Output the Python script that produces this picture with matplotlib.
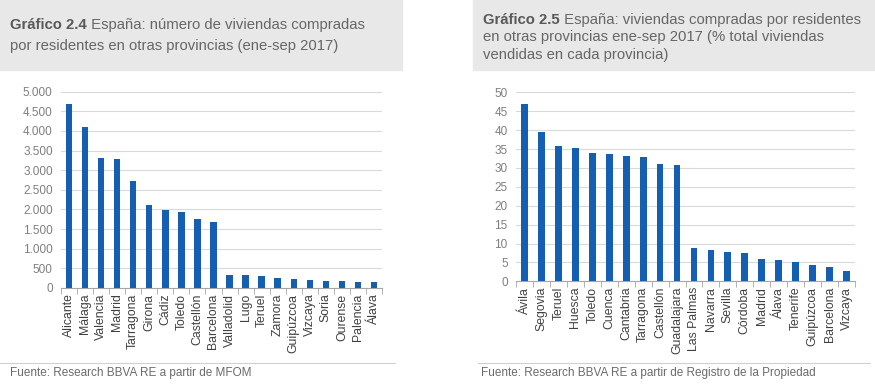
import matplotlib
matplotlib.use("Agg")
import matplotlib.pyplot as plt
from matplotlib.patches import Rectangle
from matplotlib.text import Annotation
import numpy as np

plt.rcParams['font.family'] = ['Liberation Sans', 'DejaVu Sans']

# Gráfico 2.4: número de viviendas
prov_left = ["Alicante", "Málaga", "Valencia", "Madrid", "Tarragona", "Girona",
             "Cádiz", "Toledo", "Castellón", "Barcelona", "Valladolid", "Lugo",
             "Teruel", "Zamora", "Guipúzcoa", "Vizcaya", "Soria", "Ourense",
             "Palencia", "Álava"]
viv_left = [4680, 4110, 3305, 3280, 2730, 2110, 1985, 1940, 1770, 1670,
            340, 322, 305, 246, 220, 203, 178, 178, 161, 144]

# Gráfico 2.5: % del total de viviendas vendidas
prov_right = ["Ávila", "Segovia", "Teruel", "Huesca", "Toledo", "Cuenca",
              "Cantabria", "Tarragona", "Castellón", "Guadalajara", "Las Palmas",
              "Navarra", "Sevilla", "Córdoba", "Madrid", "Álava", "Tenerife",
              "Guipúzcoa", "Barcelona", "Vizcaya"]
pct_right = [46.8, 39.4, 35.8, 35.2, 33.9, 33.7, 33.1, 32.8, 31.0, 30.7,
             8.9, 8.2, 7.8, 7.5, 5.8, 5.6, 5.0, 4.3, 3.8, 2.6]

W, H = 875, 389
BLUE = "#155fb3"
GRID = "#d9d9d9"
TFS = 10.7
fig = plt.figure(figsize=(W / 100, H / 100), dpi=100)


def px(x0, y0, x1, y1):
    # pixel box -> figure fraction
    return [x0 / W, 1 - y1 / H, (x1 - x0) / W, (y1 - y0) / H]


def bar_panel(rect, cats, vals, ymax, step, fmt):
    ax = fig.add_axes(rect)
    x = np.arange(len(cats))
    ax.bar(x, vals, width=0.4, color=BLUE, zorder=3)
    ax.set_xlim(-0.5, len(cats) - 0.5)
    ax.set_ylim(0, ymax)
    ax.set_yticks(np.arange(0, ymax + 1, step))
    ax.set_yticklabels([fmt(v) for v in np.arange(0, ymax + 1, step)])
    ax.set_xticks(x)
    ax.set_xticklabels(cats, rotation=90, fontsize=8.8, color="#404040")
    ax.set_xticks(np.arange(-0.5, len(cats)), minor=True)
    ax.tick_params(axis="x", which="major", length=0, pad=4)
    ax.tick_params(axis="x", which="minor", length=4, color="#a6a6a6", direction="out")
    ax.tick_params(axis="y", length=0, labelsize=8.5, labelcolor="#7f7f7f", pad=6)
    ax.grid(axis="y", color=GRID, linewidth=0.8, zorder=0)
    for s in ["top", "right", "left"]:
        ax.spines[s].set_visible(False)
    ax.spines["bottom"].set_color("#a6a6a6")
    return ax


bar_panel(px(61, 91.7, 382, 288), prov_left, viv_left, 5000, 500,
          lambda v: f"{int(v):,}".replace(",", "."))
bar_panel(px(516, 92.3, 855, 281.3), prov_right, pct_right, 50, 5,
          lambda v: f"{int(v)}")

# title boxes
fig.patches.append(Rectangle((0, 1 - 70 / H), 402 / W, 70 / H,
                             transform=fig.transFigure, color="#e8e8e8", zorder=0))
fig.patches.append(Rectangle((473 / W, 1 - 70 / H), (W - 473) / W, 70 / H,
                             transform=fig.transFigure, color="#e8e8e8", zorder=0))


def title(x, y_lines, bold, rest, more):
    t = fig.text(x / W, 1 - y_lines[0] / H, bold, fontsize=TFS, fontweight="bold",
                 color="#595959", va="bottom")
    fig.add_artist(Annotation(rest, xy=(1, 0), xycoords=t, fontsize=TFS,
                              color="#666666", va="bottom", ha="left",
                              annotation_clip=False))
    for yy, line in zip(y_lines[1:], more):
        fig.text(x / W, 1 - yy / H, line, fontsize=TFS, color="#666666", va="bottom")


title(10, [32, 53], "Gráfico 2.4", " España: número de viviendas compradas",
      ["por residentes en otras provincias (ene-sep 2017)"])
title(483, [27, 44, 62], "Gráfico 2.5", " España: viviendas compradas por residentes",
      ["en otras provincias ene-sep 2017 (% total viviendas",
       "vendidas en cada provincia)"])

# source lines
fig.add_artist(plt.Line2D([0, 395 / W], [1 - 363 / H] * 2, color="#d0d0d0", lw=0.8))
fig.add_artist(plt.Line2D([478 / W, 870 / W], [1 - 363 / H] * 2, color="#d0d0d0", lw=0.8))
fig.text(10 / W, 1 - 379 / H, "Fuente: Research BBVA RE a partir de MFOM",
         fontsize=8.5, color="#6b6b6b", va="bottom")
fig.text(481 / W, 1 - 379 / H, "Fuente: Research BBVA RE a partir de Registro de la Propiedad",
         fontsize=8.5, color="#6b6b6b", va="bottom")

fig.savefig("out.png", dpi=100)
